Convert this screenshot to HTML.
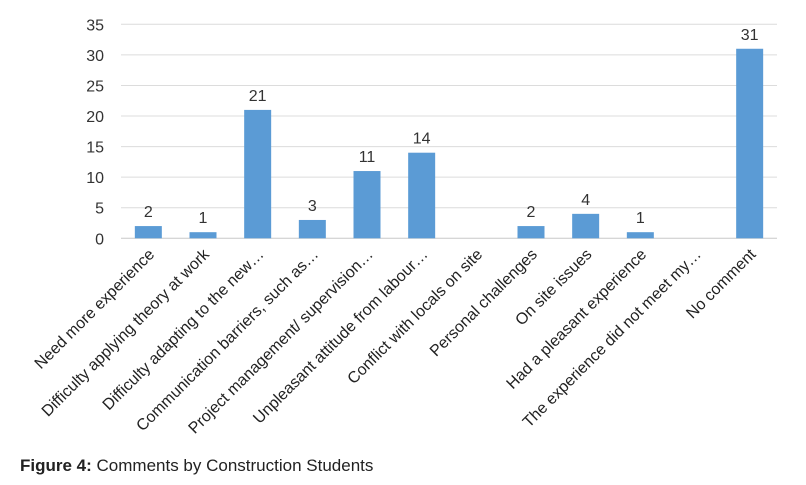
<!DOCTYPE html>
<html><head><meta charset="utf-8"><style>
body{margin:0;background:#fff;width:806px;height:485px;overflow:hidden;font-family:"Liberation Sans",Arial,sans-serif}
</style></head><body>
<svg width="806" height="485" id="c" style="position:absolute;left:0;top:0"></svg>
<div style="position:absolute;left:20px;top:456px;font-size:17px;color:#222"><b>Figure 4:</b> Comments by Construction Students</div>
<script>
const categories=["Need more experience","Difficulty applying theory at work","Difficulty adapting to the new…","Communication barriers, such as…","Project management/ supervision…","Unpleasant attitude from labour…","Conflict with locals on site","Personal challenges","On site issues","Had a pleasant experience","The experience did not meet my…","No comment"];
const values=[2,1,21,3,11,14,0,2,4,1,0,31];
const ticks=[0,5,10,15,20,25,30,35];
const svg=document.getElementById('c');
const NS='http://www.w3.org/2000/svg';
const L=121,R=777,Y0=238.3,Y35=24.3;
const y=v=>Y0-(v/35)*(Y0-Y35);
const bw=(R-L)/categories.length;
const x=i=>L+bw*(i+0.5);
function mk(t,a){const e=document.createElementNS(NS,t);for(const k in a)e.setAttribute(k,a[k]);svg.appendChild(e);return e;}
ticks.forEach(t=>{
 const g=mk('line',{x1:L,x2:R,y1:y(t),y2:y(t),stroke:t===0?'#c8c8c8':'#dcdcdc','stroke-width':1});
 
 
 const tx=mk('text',{x:104,y:y(t)+6,'text-anchor':'end','font-size':16,fill:'#333'});
 tx.textContent=t;
 
 
});
categories.forEach((c,i)=>{
 const v=values[i];
 if(v>0){
  const b=mk('rect',{x:x(i)-13.5,y:y(v),width:27,height:Y0-y(v),fill:'#5b9bd5'});
  
  
  const lb=mk('text',{x:x(i),y:y(v)-9,'text-anchor':'middle','font-size':16,fill:'#333'});
  lb.textContent=v;
  
  
 }
 const t=mk('text',{transform:`translate(${x(i)+7},${Y0+17}) rotate(-45)`,'text-anchor':'end','font-size':16,fill:'#222'});
 t.textContent=c;
 
 
});
</script>
</body></html>
